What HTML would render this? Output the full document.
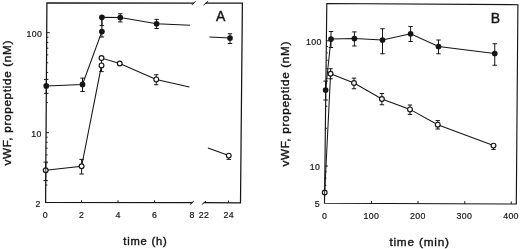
<!DOCTYPE html>
<html><head><meta charset="utf-8"><title>Figure</title>
<style>
html,body{margin:0;padding:0;background:#fff;}
svg{display:block;}
text{font-family:"Liberation Sans",sans-serif;fill:#151515;stroke:#151515;stroke-width:0.4px;}
text.t{stroke-width:0.2px;}
</style></head>
<body>
<svg width="520" height="249" viewBox="0 0 520 249" stroke="#151515" fill="none">
<rect x="0" y="0" width="520" height="249" fill="#fff" stroke="none"/>
<g>
<polyline points="193.75,3.05 46.90,2.90 45.60,202.40 192.50,202.70" fill="none" stroke-width="1.25"/>
<polyline points="205.60,3.06 242.40,3.10 240.50,202.80 203.75,202.72" fill="none" stroke-width="1.25"/>
<line x1="191.90" y1="4.90" x2="195.60" y2="1.20" stroke-width="1.0"/>
<line x1="203.60" y1="5.20" x2="208.10" y2="1.20" stroke-width="1.0"/>
<line x1="190.00" y1="204.50" x2="193.75" y2="201.00" stroke-width="1.0"/>
<line x1="201.90" y1="204.50" x2="206.00" y2="201.00" stroke-width="1.0"/>
<line x1="81.50" y1="202.47" x2="81.52" y2="200.17" stroke-width="1.0"/>
<line x1="118.00" y1="202.55" x2="118.02" y2="200.25" stroke-width="1.0"/>
<line x1="154.60" y1="202.62" x2="154.62" y2="200.32" stroke-width="1.0"/>
<line x1="228.40" y1="202.78" x2="228.42" y2="200.48" stroke-width="1.0"/>
<line x1="45.71" y1="184.99" x2="47.41" y2="184.99" stroke-width="0.9"/>
<line x1="45.79" y1="172.50" x2="47.49" y2="172.50" stroke-width="0.9"/>
<line x1="45.86" y1="162.81" x2="47.56" y2="162.81" stroke-width="0.9"/>
<line x1="45.91" y1="154.89" x2="47.61" y2="154.89" stroke-width="0.9"/>
<line x1="45.95" y1="148.19" x2="47.65" y2="148.19" stroke-width="0.9"/>
<line x1="45.99" y1="142.39" x2="47.69" y2="142.39" stroke-width="0.9"/>
<line x1="46.02" y1="137.28" x2="47.72" y2="137.28" stroke-width="0.9"/>
<line x1="46.25" y1="102.60" x2="47.95" y2="102.60" stroke-width="0.9"/>
<line x1="46.37" y1="84.99" x2="48.07" y2="84.99" stroke-width="0.9"/>
<line x1="46.45" y1="72.50" x2="48.15" y2="72.50" stroke-width="0.9"/>
<line x1="46.51" y1="62.81" x2="48.21" y2="62.81" stroke-width="0.9"/>
<line x1="46.56" y1="54.89" x2="48.26" y2="54.89" stroke-width="0.9"/>
<line x1="46.60" y1="48.19" x2="48.30" y2="48.19" stroke-width="0.9"/>
<line x1="46.64" y1="42.39" x2="48.34" y2="42.39" stroke-width="0.9"/>
<line x1="46.68" y1="37.28" x2="48.38" y2="37.28" stroke-width="0.9"/>
<line x1="46.05" y1="132.70" x2="49.05" y2="132.70" stroke-width="1.0"/>
<line x1="46.71" y1="32.70" x2="49.71" y2="32.70" stroke-width="1.0"/>
<text x="45.3" y="218.2" font-size="8.8" text-anchor="middle" letter-spacing="0.3"  class="t">0</text>
<text x="81.7" y="218.2" font-size="8.8" text-anchor="middle" letter-spacing="0.3"  class="t">2</text>
<text x="118" y="218.2" font-size="8.8" text-anchor="middle" letter-spacing="0.3"  class="t">4</text>
<text x="154.6" y="218.2" font-size="8.8" text-anchor="middle" letter-spacing="0.3"  class="t">6</text>
<text x="192.1" y="218.2" font-size="8.8" text-anchor="middle" letter-spacing="0.3"  class="t">8</text>
<text x="204" y="218.2" font-size="8.8" text-anchor="middle" letter-spacing="0.3"  class="t">22</text>
<text x="228.7" y="218.2" font-size="8.8" text-anchor="middle" letter-spacing="0.3"  class="t">24</text>
<text x="42.2" y="36.9" font-size="8.8" text-anchor="end" letter-spacing="0.3"  class="t">100</text>
<text x="41.7" y="136.9" font-size="8.8" text-anchor="end" letter-spacing="0.3"  class="t">10</text>
<text x="40.6" y="206.5" font-size="8.8" text-anchor="end" letter-spacing="0.3"  class="t">2</text>
<text x="145.4" y="244.5" font-size="11.2" text-anchor="middle" letter-spacing="0.8" >time (h)</text>
<text x="220.6" y="21" font-size="14" text-anchor="middle" letter-spacing="0" >A</text>
<text transform="translate(10.5,102.7) rotate(-90)" font-size="11.8" text-anchor="middle" letter-spacing="0.64">vWF, propeptide (nM)</text>
<polyline points="46.25,85.90 82.50,84.40 101.90,31.50 101.90,17.25 120.25,17.50 156.60,23.75 190.00,25.30" fill="none" stroke-width="1.05"/>
<polyline points="209.40,36.90 230.00,38.10" fill="none" stroke-width="1.05"/>
<line x1="46.25" y1="79.40" x2="46.25" y2="93.40" stroke-width="1.0"/><line x1="44.05" y1="79.40" x2="48.45" y2="79.40" stroke-width="1.0"/><line x1="44.05" y1="93.40" x2="48.45" y2="93.40" stroke-width="1.0"/>
<line x1="82.50" y1="78.10" x2="82.50" y2="91.50" stroke-width="1.0"/><line x1="80.30" y1="78.10" x2="84.70" y2="78.10" stroke-width="1.0"/><line x1="80.30" y1="91.50" x2="84.70" y2="91.50" stroke-width="1.0"/>
<line x1="101.90" y1="17.25" x2="101.90" y2="25.60" stroke-width="1.0"/><line x1="99.70" y1="17.25" x2="104.10" y2="17.25" stroke-width="1.0"/><line x1="99.70" y1="25.60" x2="104.10" y2="25.60" stroke-width="1.0"/>
<line x1="101.90" y1="31.50" x2="101.90" y2="37.00" stroke-width="1.0"/><line x1="99.70" y1="31.50" x2="104.10" y2="31.50" stroke-width="1.0"/><line x1="99.70" y1="37.00" x2="104.10" y2="37.00" stroke-width="1.0"/>
<line x1="120.25" y1="13.75" x2="120.25" y2="21.90" stroke-width="1.0"/><line x1="118.05" y1="13.75" x2="122.45" y2="13.75" stroke-width="1.0"/><line x1="118.05" y1="21.90" x2="122.45" y2="21.90" stroke-width="1.0"/>
<line x1="156.60" y1="19.40" x2="156.60" y2="28.50" stroke-width="1.0"/><line x1="154.40" y1="19.40" x2="158.80" y2="19.40" stroke-width="1.0"/><line x1="154.40" y1="28.50" x2="158.80" y2="28.50" stroke-width="1.0"/>
<line x1="230.00" y1="33.75" x2="230.00" y2="43.50" stroke-width="1.0"/><line x1="227.80" y1="33.75" x2="232.20" y2="33.75" stroke-width="1.0"/><line x1="227.80" y1="43.50" x2="232.20" y2="43.50" stroke-width="1.0"/>
<circle cx="46.25" cy="85.9" r="2.85" fill="#151515" stroke="none"/>
<circle cx="82.5" cy="84.4" r="2.85" fill="#151515" stroke="none"/>
<circle cx="101.9" cy="31.5" r="2.85" fill="#151515" stroke="none"/>
<circle cx="101.9" cy="17.25" r="2.85" fill="#151515" stroke="none"/>
<circle cx="120.25" cy="17.5" r="2.85" fill="#151515" stroke="none"/>
<circle cx="156.6" cy="23.75" r="2.85" fill="#151515" stroke="none"/>
<circle cx="230" cy="38.1" r="2.85" fill="#151515" stroke="none"/>
<polyline points="45.70,170.25 81.60,166.25 101.50,65.40 101.50,58.10 119.75,63.50 156.25,79.40 189.40,86.90" fill="none" stroke-width="1.05"/>
<polyline points="207.90,148.10 228.75,155.60" fill="none" stroke-width="1.05"/>
<line x1="45.70" y1="162.10" x2="45.70" y2="180.60" stroke-width="1.0"/><line x1="43.50" y1="162.10" x2="47.90" y2="162.10" stroke-width="1.0"/><line x1="43.50" y1="180.60" x2="47.90" y2="180.60" stroke-width="1.0"/>
<line x1="81.60" y1="159.40" x2="81.60" y2="174.00" stroke-width="1.0"/><line x1="79.40" y1="159.40" x2="83.80" y2="159.40" stroke-width="1.0"/><line x1="79.40" y1="174.00" x2="83.80" y2="174.00" stroke-width="1.0"/>
<line x1="101.50" y1="65.40" x2="101.50" y2="71.60" stroke-width="1.0"/><line x1="99.30" y1="65.40" x2="103.70" y2="65.40" stroke-width="1.0"/><line x1="99.30" y1="71.60" x2="103.70" y2="71.60" stroke-width="1.0"/>
<line x1="156.25" y1="74.75" x2="156.25" y2="84.75" stroke-width="1.0"/><line x1="154.05" y1="74.75" x2="158.45" y2="74.75" stroke-width="1.0"/><line x1="154.05" y1="84.75" x2="158.45" y2="84.75" stroke-width="1.0"/>
<line x1="228.75" y1="155.60" x2="228.75" y2="159.40" stroke-width="1.0"/><line x1="226.55" y1="155.60" x2="230.95" y2="155.60" stroke-width="1.0"/><line x1="226.55" y1="159.40" x2="230.95" y2="159.40" stroke-width="1.0"/>
<circle cx="45.7" cy="170.25" r="2.4" fill="#fff" stroke-width="1.15"/>
<circle cx="81.6" cy="166.25" r="2.4" fill="#fff" stroke-width="1.15"/>
<circle cx="101.5" cy="65.4" r="2.4" fill="#fff" stroke-width="1.15"/>
<circle cx="101.5" cy="58.1" r="2.4" fill="#fff" stroke-width="1.15"/>
<circle cx="119.75" cy="63.5" r="2.4" fill="#fff" stroke-width="1.15"/>
<circle cx="156.25" cy="79.4" r="2.4" fill="#fff" stroke-width="1.15"/>
<circle cx="228.75" cy="155.6" r="2.4" fill="#fff" stroke-width="1.15"/>
<line x1="45.83" y1="167.30" x2="45.79" y2="173.20" stroke-width="0.9"/>
<polygon points="326.8,3.5 517.9,4.7 516.3,204.0 324.5,203.2" fill="none" stroke-width="1.15"/>
<line x1="371.40" y1="203.40" x2="371.42" y2="200.90" stroke-width="1.0"/>
<line x1="418.00" y1="203.59" x2="418.02" y2="201.09" stroke-width="1.0"/>
<line x1="464.75" y1="203.78" x2="464.77" y2="201.28" stroke-width="1.0"/>
<line x1="511.25" y1="203.98" x2="511.27" y2="201.48" stroke-width="1.0"/>
<line x1="324.61" y1="193.78" x2="326.31" y2="193.78" stroke-width="0.9"/>
<line x1="324.71" y1="185.39" x2="326.41" y2="185.39" stroke-width="0.9"/>
<line x1="324.79" y1="178.13" x2="326.49" y2="178.13" stroke-width="0.9"/>
<line x1="324.86" y1="171.73" x2="326.56" y2="171.73" stroke-width="0.9"/>
<line x1="325.36" y1="128.31" x2="327.06" y2="128.31" stroke-width="0.9"/>
<line x1="325.62" y1="106.26" x2="327.32" y2="106.26" stroke-width="0.9"/>
<line x1="325.80" y1="90.62" x2="327.50" y2="90.62" stroke-width="0.9"/>
<line x1="325.94" y1="78.49" x2="327.64" y2="78.49" stroke-width="0.9"/>
<line x1="326.05" y1="68.58" x2="327.75" y2="68.58" stroke-width="0.9"/>
<line x1="326.15" y1="60.19" x2="327.85" y2="60.19" stroke-width="0.9"/>
<line x1="326.23" y1="52.93" x2="327.93" y2="52.93" stroke-width="0.9"/>
<line x1="326.30" y1="46.53" x2="328.00" y2="46.53" stroke-width="0.9"/>
<line x1="324.93" y1="166.00" x2="327.93" y2="166.00" stroke-width="1.0"/>
<line x1="326.37" y1="40.80" x2="329.37" y2="40.80" stroke-width="1.0"/>
<text x="324.6" y="219.3" font-size="8.8" text-anchor="middle" letter-spacing="0.3"  class="t">0</text>
<text x="371.4" y="219.3" font-size="8.8" text-anchor="middle" letter-spacing="0.3"  class="t">100</text>
<text x="417.8" y="219.3" font-size="8.8" text-anchor="middle" letter-spacing="0.3"  class="t">200</text>
<text x="464.4" y="219.3" font-size="8.8" text-anchor="middle" letter-spacing="0.3"  class="t">300</text>
<text x="511" y="219.3" font-size="8.8" text-anchor="middle" letter-spacing="0.3"  class="t">400</text>
<text x="321.6" y="44.9" font-size="8.8" text-anchor="end" letter-spacing="0.3"  class="t">100</text>
<text x="320.2" y="170.0" font-size="8.8" text-anchor="end" letter-spacing="0.3"  class="t">10</text>
<text x="319.9" y="207.2" font-size="8.8" text-anchor="end" letter-spacing="0.3"  class="t">5</text>
<text x="419.6" y="245.5" font-size="11.8" text-anchor="middle" letter-spacing="0.8" >time (min)</text>
<text x="495.3" y="23.1" font-size="14" text-anchor="middle" letter-spacing="0" >B</text>
<text transform="translate(288.5,103.7) rotate(-90)" font-size="11.8" text-anchor="middle" letter-spacing="0.64">vWF, propeptide (nM)</text>
<polyline points="325.60,90.00 331.00,39.10 354.40,38.50 382.50,40.00 410.60,33.75 438.50,46.50 494.75,53.50" fill="none" stroke-width="1.05"/>
<line x1="325.60" y1="81.10" x2="325.60" y2="100.00" stroke-width="1.0"/><line x1="323.40" y1="81.10" x2="327.80" y2="81.10" stroke-width="1.0"/><line x1="323.40" y1="100.00" x2="327.80" y2="100.00" stroke-width="1.0"/>
<line x1="331.00" y1="31.50" x2="331.00" y2="47.50" stroke-width="1.0"/><line x1="328.80" y1="31.50" x2="333.20" y2="31.50" stroke-width="1.0"/><line x1="328.80" y1="47.50" x2="333.20" y2="47.50" stroke-width="1.0"/>
<line x1="354.40" y1="31.90" x2="354.40" y2="46.00" stroke-width="1.0"/><line x1="352.20" y1="31.90" x2="356.60" y2="31.90" stroke-width="1.0"/><line x1="352.20" y1="46.00" x2="356.60" y2="46.00" stroke-width="1.0"/>
<line x1="382.50" y1="28.75" x2="382.50" y2="53.75" stroke-width="1.0"/><line x1="380.30" y1="28.75" x2="384.70" y2="28.75" stroke-width="1.0"/><line x1="380.30" y1="53.75" x2="384.70" y2="53.75" stroke-width="1.0"/>
<line x1="410.60" y1="26.50" x2="410.60" y2="41.50" stroke-width="1.0"/><line x1="408.40" y1="26.50" x2="412.80" y2="26.50" stroke-width="1.0"/><line x1="408.40" y1="41.50" x2="412.80" y2="41.50" stroke-width="1.0"/>
<line x1="438.50" y1="40.00" x2="438.50" y2="53.75" stroke-width="1.0"/><line x1="436.30" y1="40.00" x2="440.70" y2="40.00" stroke-width="1.0"/><line x1="436.30" y1="53.75" x2="440.70" y2="53.75" stroke-width="1.0"/>
<line x1="494.75" y1="43.75" x2="494.75" y2="65.25" stroke-width="1.0"/><line x1="492.55" y1="43.75" x2="496.95" y2="43.75" stroke-width="1.0"/><line x1="492.55" y1="65.25" x2="496.95" y2="65.25" stroke-width="1.0"/>
<circle cx="325.6" cy="90" r="2.85" fill="#151515" stroke="none"/>
<circle cx="331" cy="39.1" r="2.85" fill="#151515" stroke="none"/>
<circle cx="354.4" cy="38.5" r="2.85" fill="#151515" stroke="none"/>
<circle cx="382.5" cy="40" r="2.85" fill="#151515" stroke="none"/>
<circle cx="410.6" cy="33.75" r="2.85" fill="#151515" stroke="none"/>
<circle cx="438.5" cy="46.5" r="2.85" fill="#151515" stroke="none"/>
<circle cx="494.75" cy="53.5" r="2.85" fill="#151515" stroke="none"/>
<polyline points="324.70,192.50 330.60,73.75 354.00,83.00 381.90,99.00 410.00,109.40 437.75,124.70 493.50,145.60" fill="none" stroke-width="1.05"/>
<line x1="330.60" y1="68.75" x2="330.60" y2="78.75" stroke-width="1.0"/><line x1="328.40" y1="68.75" x2="332.80" y2="68.75" stroke-width="1.0"/><line x1="328.40" y1="78.75" x2="332.80" y2="78.75" stroke-width="1.0"/>
<line x1="354.00" y1="78.10" x2="354.00" y2="88.75" stroke-width="1.0"/><line x1="351.80" y1="78.10" x2="356.20" y2="78.10" stroke-width="1.0"/><line x1="351.80" y1="88.75" x2="356.20" y2="88.75" stroke-width="1.0"/>
<line x1="381.90" y1="93.50" x2="381.90" y2="104.75" stroke-width="1.0"/><line x1="379.70" y1="93.50" x2="384.10" y2="93.50" stroke-width="1.0"/><line x1="379.70" y1="104.75" x2="384.10" y2="104.75" stroke-width="1.0"/>
<line x1="410.00" y1="105.00" x2="410.00" y2="114.40" stroke-width="1.0"/><line x1="407.80" y1="105.00" x2="412.20" y2="105.00" stroke-width="1.0"/><line x1="407.80" y1="114.40" x2="412.20" y2="114.40" stroke-width="1.0"/>
<line x1="437.75" y1="120.60" x2="437.75" y2="129.00" stroke-width="1.0"/><line x1="435.55" y1="120.60" x2="439.95" y2="120.60" stroke-width="1.0"/><line x1="435.55" y1="129.00" x2="439.95" y2="129.00" stroke-width="1.0"/>
<line x1="493.50" y1="145.60" x2="493.50" y2="149.40" stroke-width="1.0"/><line x1="491.30" y1="145.60" x2="495.70" y2="145.60" stroke-width="1.0"/><line x1="491.30" y1="149.40" x2="495.70" y2="149.40" stroke-width="1.0"/>
<circle cx="324.7" cy="192.5" r="2.4" fill="#fff" stroke-width="1.15"/>
<circle cx="330.6" cy="73.75" r="2.4" fill="#fff" stroke-width="1.15"/>
<circle cx="354" cy="83" r="2.4" fill="#fff" stroke-width="1.15"/>
<circle cx="381.9" cy="99" r="2.4" fill="#fff" stroke-width="1.15"/>
<circle cx="410" cy="109.4" r="2.4" fill="#fff" stroke-width="1.15"/>
<circle cx="437.75" cy="124.7" r="2.4" fill="#fff" stroke-width="1.15"/>
<circle cx="493.5" cy="145.6" r="2.4" fill="#fff" stroke-width="1.15"/>
<line x1="324.66" y1="189.60" x2="324.59" y2="195.40" stroke-width="0.9"/>
</g>
</svg>
</body></html>
